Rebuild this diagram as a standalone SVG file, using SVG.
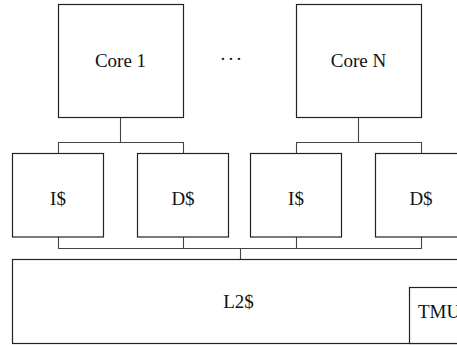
<svg xmlns="http://www.w3.org/2000/svg" width="457" height="345" viewBox="0 0 457 345">
<style>
.box{fill:#fff;stroke:#222;stroke-width:1.2}
.wire{fill:none;stroke:#444;stroke-width:1.1}
.lbl{font-family:"Liberation Serif","DejaVu Serif",serif;font-size:19px;fill:#111;text-anchor:middle}
</style>
<rect width="457" height="345" fill="#fff"/>
<g id="connectors">
<path class="wire" d="M120.5,117 V142.5 M58.5,153 V142.5 H183.5 V153"/>
<path class="wire" d="M358.5,117 V142.5 M296.5,153 V142.5 H421.5 V153"/>
<path class="wire" d="M58.5,237 V248.5 H421.5 V237 M183.5,237 V248.5 M296.5,237 V248.5 M240.5,248.5 V259.5"/>
</g>
<g id="core1"><rect class="box" x="58.5" y="4.5" width="125" height="113"/><text class="lbl" x="120.5" y="67">Core 1</text></g>
<g id="dots"><text class="lbl" x="223 231 239" y="65">···</text></g>
<g id="coreN"><rect class="box" x="296.5" y="4.5" width="125" height="113"/><text class="lbl" x="358.5" y="67">Core N</text></g>
<g id="icache1"><rect class="box" x="12.5" y="153.5" width="91" height="83.5"/><text class="lbl" x="58" y="205">I$</text></g>
<g id="dcache1"><rect class="box" x="137.5" y="153.5" width="91" height="83.5"/><text class="lbl" x="183" y="205">D$</text></g>
<g id="icacheN"><rect class="box" x="250.5" y="153.5" width="91" height="83.5"/><text class="lbl" x="296" y="205">I$</text></g>
<g id="dcacheN"><rect class="box" x="375.5" y="153.5" width="91" height="83.5"/><text class="lbl" x="421" y="205">D$</text></g>
<g id="l2"><rect class="box" x="12.5" y="259.5" width="454" height="84"/><text class="lbl" x="238.5" y="307.5">L2$</text></g>
<g id="tmu"><rect class="box" x="409.5" y="287.5" width="58" height="56"/><text class="lbl" x="439" y="318">TMU</text></g>
</svg>
